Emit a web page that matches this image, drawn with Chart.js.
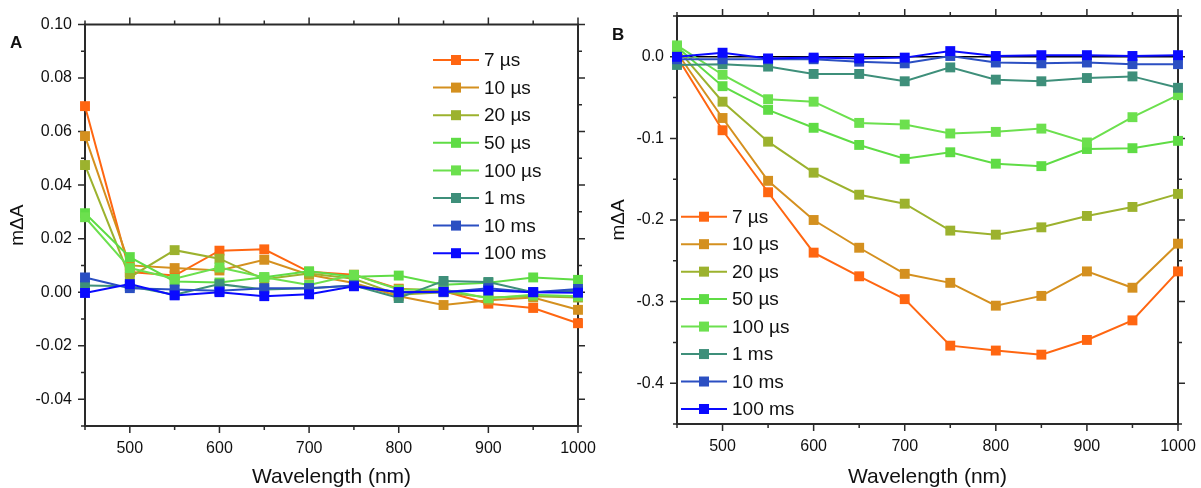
<!DOCTYPE html>
<html>
<head>
<meta charset="utf-8">
<script src="https://cdn.jsdelivr.net/npm/chart.js"></script>
<style>
  html, body { margin: 0; padding: 0; background: #fff; }
  #wrap { position: relative; width: 1201px; height: 488px; overflow: hidden; }
  #chartA { position: absolute; left: 0; top: 0; }
  #chartB { position: absolute; left: 600px; top: 0; }
</style>
</head>
<body>
<div id="wrap">
  <canvas id="chartA" width="600" height="488"></canvas>
  <canvas id="chartB" width="601" height="488"></canvas>
</div>
<script>
const wavelengths = [450, 500, 550, 600, 650, 700, 750, 800, 850, 900, 950, 1000];
const delayLabels = ["7 µs", "10 µs", "20 µs", "50 µs", "100 µs", "1 ms", "10 ms", "100 ms"];
const delayColors = ["#ff6611", "#d4901f", "#9cb22e", "#5fdc45", "#6ce04e", "#3e8f7a", "#2b4fc2", "#0a0aff"];

// panel A (mΔA)
const a7us   = [0.0695, 0.0075, 0.0062, 0.0155, 0.0160, 0.0076, 0.0065, 0.0013, 0.0004, -0.0043, -0.0059, -0.0116];
const a10us  = [0.0583, 0.0100, 0.0090, 0.0081, 0.0121, 0.0065, 0.0034, -0.0015, -0.0048, -0.0030, -0.0020, -0.0066];
const a20us  = [0.0475, 0.0056, 0.0157, 0.0125, 0.0048, 0.0070, 0.0050, -0.0010, 0.0000, -0.0020, -0.0015, -0.0020];
const a50us  = [0.0295, 0.0131, 0.0040, 0.0036, 0.0056, 0.0078, 0.0058, 0.0062, 0.0028, 0.0035, 0.0055, 0.0046];
const a100us = [0.0280, 0.0090, 0.0050, 0.0092, 0.0056, 0.0027, 0.0065, 0.0010, 0.0010, -0.0023, -0.0010, -0.0015];
const a1ms   = [0.0025, 0.0022, -0.0010, 0.0030, 0.0010, 0.0015, 0.0025, -0.0022, 0.0042, 0.0038, 0.0000, 0.0005];
const a10ms  = [0.0055, 0.0015, 0.0010, 0.0005, 0.0015, 0.0015, 0.0025, 0.0000, 0.0000, 0.0015, 0.0000, 0.0012];
const a100ms = [-0.0003, 0.0030, -0.0012, 0.0000, -0.0015, -0.0008, 0.0022, 0.0000, 0.0002, 0.0006, 0.0000, -0.0002];

// panel B (mΔA)
const b7us   = [0.000, -0.090, -0.166, -0.240, -0.269, -0.297, -0.354, -0.360, -0.365, -0.347, -0.323, -0.263];
const b10us  = [0.005, -0.075, -0.152, -0.200, -0.234, -0.266, -0.277, -0.305, -0.293, -0.263, -0.283, -0.229];
const b20us  = [0.010, -0.055, -0.104, -0.142, -0.169, -0.180, -0.213, -0.218, -0.209, -0.195, -0.184, -0.168];
const b50us  = [0.012, -0.036, -0.065, -0.087, -0.108, -0.125, -0.117, -0.131, -0.134, -0.113, -0.112, -0.103];
const b100us = [0.014, -0.022, -0.052, -0.055, -0.081, -0.083, -0.094, -0.092, -0.088, -0.105, -0.074, -0.047];
const b1ms   = [-0.010, -0.009, -0.012, -0.021, -0.021, -0.030, -0.013, -0.028, -0.030, -0.026, -0.024, -0.038];
const b10ms  = [-0.003, -0.003, -0.003, -0.003, -0.006, -0.008, 0.001, -0.007, -0.008, -0.007, -0.009, -0.009];
const b100ms = [0.000, 0.005, -0.002, -0.001, -0.002, -0.001, 0.007, 0.001, 0.002, 0.002, 0.001, 0.002];

const FONT = '"Liberation Sans", Arial, sans-serif';

// box + outward ticks on all four sides (long for labelled ticks)
const frameTicks = {
  id: "frameTicks",
  beforeDatasetsDraw(chart, args, opts) {
    const { ctx, chartArea: a, scales: { x, y } } = chart;
    ctx.save();
    if (opts.zeroLine) {
      const py = y.getPixelForValue(0);
      ctx.strokeStyle = "#000";
      ctx.lineWidth = 1.5;
      ctx.beginPath();
      ctx.moveTo(a.left, py);
      ctx.lineTo(a.right, py);
      ctx.stroke();
    }
    ctx.strokeStyle = "#2a2a2a";
    ctx.lineWidth = 2;
    ctx.strokeRect(a.left, a.top, a.right - a.left, a.bottom - a.top);
    ctx.lineWidth = 1.5;
    const xl = x.getLabelItems();
    x.ticks.forEach((t, i) => {
      const len = xl[i] && xl[i].label !== "" ? 7 : 4;
      const px = x.getPixelForValue(t.value);
      ctx.beginPath();
      ctx.moveTo(px, a.bottom); ctx.lineTo(px, a.bottom + len);
      ctx.moveTo(px, a.top); ctx.lineTo(px, a.top - len);
      ctx.stroke();
    });
    const yl = y.getLabelItems();
    y.ticks.forEach((t, i) => {
      const len = yl[i] && yl[i].label !== "" ? 7 : 4;
      const py = y.getPixelForValue(t.value);
      ctx.beginPath();
      ctx.moveTo(a.left, py); ctx.lineTo(a.left - len, py);
      ctx.moveTo(a.right, py); ctx.lineTo(a.right + len, py);
      ctx.stroke();
    });
    ctx.restore();
  },
  afterDraw(chart, args, opts) {
    const ctx = chart.ctx;
    ctx.save();
    ctx.fillStyle = "#111";
    ctx.font = "bold 17px " + FONT;
    ctx.textBaseline = "alphabetic";
    ctx.fillText(opts.panel, opts.panelX, opts.panelY);
    ctx.restore();
  }
};

const boxLegend = {
  id: "boxLegend",
  afterDraw(chart, args, o) {
    const ctx = chart.ctx;
    ctx.save();
    chart.data.datasets.forEach((ds, i) => {
      const cy = o.top + i * o.row;
      ctx.strokeStyle = ds.borderColor;
      ctx.lineWidth = 2;
      ctx.beginPath();
      ctx.moveTo(o.left, cy);
      ctx.lineTo(o.left + 46, cy);
      ctx.stroke();
      ctx.fillStyle = ds.backgroundColor;
      ctx.fillRect(o.left + 23 - 5, cy - 5, 10, 10);
      ctx.fillStyle = "#111";
      ctx.font = "19px " + FONT;
      ctx.textBaseline = "middle";
      ctx.fillText(ds.label, o.left + 51, cy + 1);
    });
    ctx.restore();
  }
};

function makeChart(id, series, cfg) {
  const datasets = series.map((vals, i) => ({
    label: delayLabels[i],
    data: wavelengths.map((w, j) => ({ x: w, y: vals[j] })),
    borderColor: delayColors[i],
    backgroundColor: delayColors[i],
    borderWidth: 2,
    pointStyle: "rect",
    pointRadius: 7,
    pointBorderWidth: 0,
    tension: 0,
    clip: false,
    order: series.length - i
  }));
  return new Chart(document.getElementById(id), {
    type: "line",
    data: { datasets },
    options: {
      responsive: false,
      animation: false,
      devicePixelRatio: 1,
      layout: { padding: { top: cfg.top, right: cfg.right, left: 0, bottom: 0 } },
      plugins: {
        legend: { display: false },
        tooltip: { enabled: false },
        frameTicks: { zeroLine: cfg.zeroLine, panel: cfg.panel, panelX: cfg.panelX, panelY: cfg.panelY },
        boxLegend: cfg.legend
      },
      scales: {
        x: {
          type: "linear",
          min: 450,
          max: 1000,
          afterFit: (s) => { s.height = cfg.bottomH; s.paddingLeft = 0; s.paddingRight = 0; },
          grid: { display: false, drawTicks: false },
          border: { display: false },
          ticks: {
            stepSize: 50,
            autoSkip: false,
            maxRotation: 0,
            padding: 13,
            color: "#111",
            font: { size: 16, family: FONT },
            callback: (v) => (v % 100 === 0 ? String(v) : "")
          },
          title: {
            display: true,
            text: "Wavelength (nm)",
            color: "#111",
            font: { size: 21, family: FONT, lineHeight: 1 },
            padding: 0
          }
        },
        y: {
          type: "linear",
          min: cfg.yMin,
          max: cfg.yMax,
          afterFit: (s) => { s.width = cfg.leftW; s.paddingTop = 0; s.paddingBottom = 0; },
          grid: { display: false, drawTicks: false },
          border: { display: false },
          ticks: {
            stepSize: cfg.yStep,
            autoSkip: false,
            padding: 13,
            color: "#111",
            font: { size: 16, family: FONT },
            callback: cfg.yLabel
          },
          title: {
            display: true,
            text: "mΔA",
            color: "#111",
            font: { size: 19, family: FONT, lineHeight: 1 },
            padding: { top: cfg.titlePad, bottom: 0 }
          }
        }
      }
    },
    plugins: [frameTicks, boxLegend]
  });
}

makeChart("chartA", [a7us, a10us, a20us, a50us, a100us, a1ms, a10ms, a100ms], {
  top: 24.5, right: 22, bottomH: 62, leftW: 85, titlePad: 8.5,
  yMin: -0.05, yMax: 0.10, yStep: 0.01,
  yLabel: (v) => (Math.round(v * 100) % 2 === 0 ? (Math.round(v * 100) / 100).toFixed(2) : ""),
  zeroLine: false, panel: "A", panelX: 10, panelY: 48,
  legend: { left: 433, top: 60, row: 27.6 }
});

makeChart("chartB", [b7us, b10us, b20us, b50us, b100us, b1ms, b10ms, b100ms], {
  top: 16, right: 23, bottomH: 64, leftW: 77, titlePad: 9.5,
  yMin: -0.45, yMax: 0.05, yStep: 0.05,
  yLabel: (v) => (Math.round(v * 20) % 2 === 0 ? (Math.round(v * 10) / 10).toFixed(1) : ""),
  zeroLine: true, panel: "B", panelX: 12, panelY: 40,
  legend: { left: 81, top: 216.7, row: 27.47 }
});
</script>
</body>
</html>
